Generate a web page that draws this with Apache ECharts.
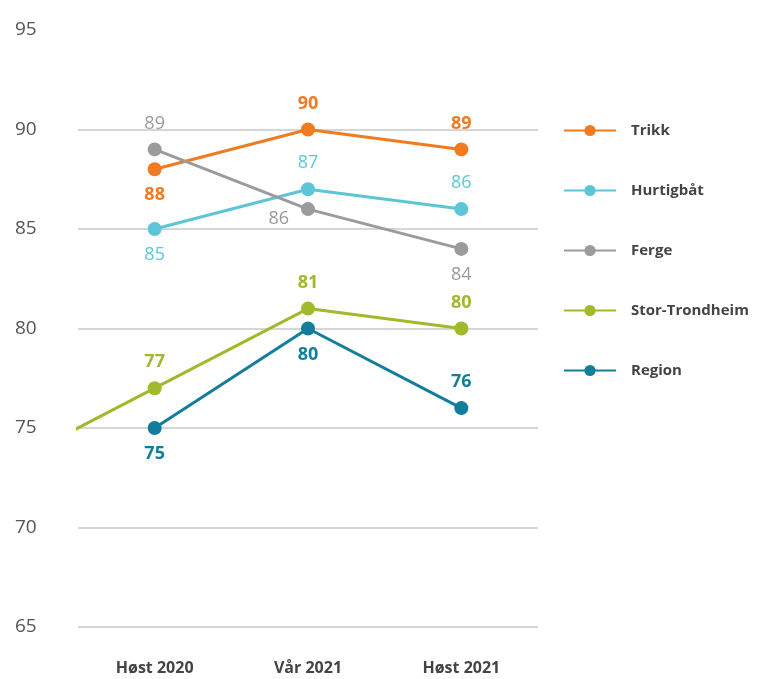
<!DOCTYPE html>
<html>
<head>
<meta charset="utf-8">
<script src="https://cdn.jsdelivr.net/npm/echarts@6/dist/echarts.min.js"></script>
<style>
  html, body { margin: 0; padding: 0; background: #fff; }
  #chart { width: 778px; height: 679px; }
</style>
</head>
<body>
<div id="chart"></div>
<script>
// data
const periods = ['Høst 2020', 'Vår 2021', 'Høst 2021']
const trikk = [88, 90, 89]
const hurtigbat = [85, 87, 86]
const ferge = [89, 86, 84]
const storTrondheim = [77, 81, 80]
const region = [75, 80, 76]
// green line runs in from an earlier (off-chart) point
const storTrondheimBefore = 73
const yTicks = [65, 70, 75, 80, 85, 90, 95]

const font = '"Open Sans", "DejaVu Sans", sans-serif'
const chart = echarts.init(document.getElementById('chart'))

const mk = (name, data, color, pos, bold) => ({
  name,
  type: 'line',
  xAxisIndex: 1,
  data: data.map((v, i) => {
    const lbl = { position: pos[i] }
    if (pos[i] === 'left') lbl.offset = [-2, 10]
    return { value: [i, v], label: lbl }
  }),
  symbol: 'circle',
  symbolSize: 14,
  lineStyle: { width: 3, color },
  itemStyle: { color },
  z: 3,
  label: {
    show: true,
    fontFamily: font,
    fontSize: 18,
    fontWeight: bold ? 'bold' : 'normal',
    color,
    distance: 10,
    formatter: p => p.value[1]
  },
  emphasis: { disabled: true }
})

const series = [
  mk('Trikk', trikk, '#f07b21', ['bottom', 'top', 'top'], true),
  mk('Hurtigbåt', hurtigbat, '#5cc6d6', ['bottom', 'top', 'top'], false),
  mk('Ferge', ferge, '#9b9b9b', ['top', 'left', 'bottom'], false),
  mk('Stor-Trondheim', storTrondheim, '#9fba2b', ['top', 'top', 'top'], true),
  mk('Region', region, '#127e9c', ['bottom', 'bottom', 'top'], true)
]

series.push({
  name: 'stor-before',
  type: 'line',
  xAxisIndex: 1,
  data: [[-1, storTrondheimBefore], [0, storTrondheim[0]]],
  symbol: 'none',
  lineStyle: { width: 3, color: '#9fba2b' },
  clip: true,
  silent: true,
  z: 2
})

const option = {
  backgroundColor: '#fff',
  animation: false,
  grid: { left: 78, right: 240, top: 30, bottom: 52 },
  legend: {
    data: ['Trikk', 'Hurtigbåt', 'Ferge', 'Stor-Trondheim', 'Region'],
    orient: 'vertical',
    left: 558,
    top: 118,
    itemWidth: 52,
    itemHeight: 14,
    itemGap: 45,
    textStyle: { fontFamily: font, fontSize: 15, fontWeight: 'bold', color: '#444', padding: [0, 0, 0, 10] }
  },
  xAxis: [
    {
      type: 'category',
      data: periods,
      boundaryGap: true,
      axisLine: { show: false },
      axisTick: { show: false },
      axisLabel: { fontFamily: font, fontSize: 16, fontWeight: 'bold', color: '#444', margin: 33 }
    },
    {
      type: 'value',
      min: -0.5,
      max: 2.5,
      show: false
    }
  ],
  yAxis: {
    type: 'value',
    min: yTicks[0],
    max: yTicks[yTicks.length - 1],
    interval: 5,
    axisLine: { show: false },
    axisTick: { show: false },
    axisLabel: { fontFamily: font, fontSize: 19, color: '#555', align: 'left', margin: 63 },
    splitLine: {
      lineStyle: {
        color: ['#c8c8c8', '#c8c8c8', '#c8c8c8', '#c8c8c8', '#c8c8c8', '#c8c8c8', 'rgba(0,0,0,0)'],
        width: 1.5
      }
    }
  },
  series
}

chart.setOption(option)
</script>
</body>
</html>
